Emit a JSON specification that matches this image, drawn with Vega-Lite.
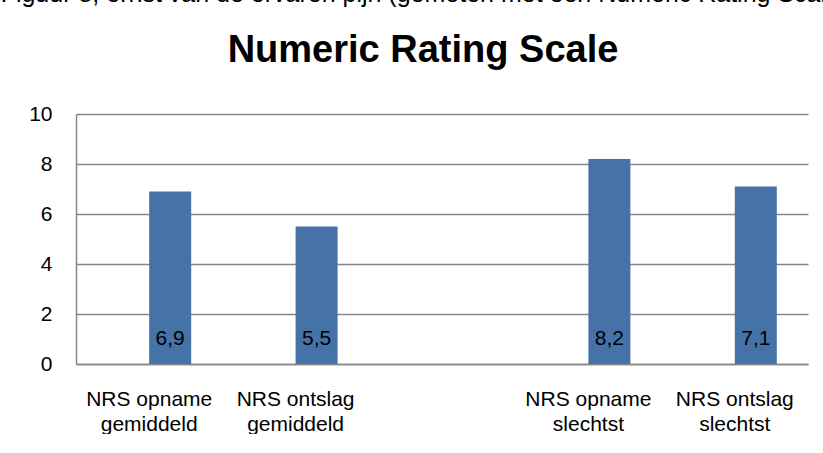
{
  "$schema": "https://vega.github.io/schema/vega-lite/v6.json",
  "padding": {"left": 0, "top": -18, "right": 0, "bottom": 0},
  "background": "white",
  "config": {
    "locale": {"number": {"decimal": ",", "thousands": ".", "grouping": [3], "currency": ["€", ""]}},
    "font": "Liberation Sans",
    "view": {"stroke": null},
    "concat": {"spacing": 0}
  },
  "title": {"text": "Figuur 8, ernst van de ervaren pijn (gemeten met een Numeric Rating Scale)", "anchor": "start", "frame": "bounds", "fontSize": 25, "fontWeight": "normal", "color": "#000000", "dx": -28, "offset": 25},
  "vconcat": [
    {
      "width": 732,
      "height": 250,
      "title": {"text": "Numeric Rating Scale", "fontSize": 38, "fontWeight": "bold", "color": "#000000", "anchor": "middle", "dx": -19, "offset": 33},
      "data": {"values": [
        {"c": "NRS opname|gemiddeld", "s": "b", "v": 6.9},
        {"c": "NRS ontslag|gemiddeld", "s": "b", "v": 5.5},
        {"c": "NRS opname|slechtst", "s": "b", "v": 8.2},
        {"c": "NRS ontslag|slechtst", "s": "b", "v": 7.1}
      ]},
      "encoding": {
        "x": {"field": "c", "type": "nominal", "sort": null,
          "scale": {"domain": ["NRS opname|gemiddeld", "NRS ontslag|gemiddeld", "gap", "NRS opname|slechtst", "NRS ontslag|slechtst"], "paddingInner": 0, "paddingOuter": 0},
          "axis": {"title": null, "labelAngle": 0, "ticks": false, "grid": false, "labelExpr": "datum.value == 'gap' ? '' : split(datum.value, '|')", "labelFontSize": 21, "labelPadding": 24, "labelLineHeight": 25, "labelLimit": 0, "labelOverlap": false, "domainColor": "#868686", "domainWidth": 1.5, "labelColor": "#000000"}},
        "xOffset": {"field": "s", "type": "nominal", "scale": {"domain": ["a", "b"], "paddingInner": 0, "paddingOuter": 0.743}},
        "y": {"field": "v", "type": "quantitative", "scale": {"domain": [0, 10]},
          "axis": {"title": null, "values": [0, 2, 4, 6, 8, 10], "ticks": false, "labelPadding": 24, "labelFontSize": 21, "labelColor": "#000000", "domainColor": "#868686", "domainWidth": 1.5, "gridColor": "#868686", "gridWidth": 1.5}}
      },
      "layer": [
        {"mark": {"type": "bar", "color": "#4572A7"}},
        {"mark": {"type": "text", "baseline": "bottom", "dy": -15, "fontSize": 21, "color": "#000000"},
         "encoding": {"y": {"datum": 0}, "text": {"field": "v", "type": "quantitative", "format": ".1f"}}}
      ]
    }
  ]
}
